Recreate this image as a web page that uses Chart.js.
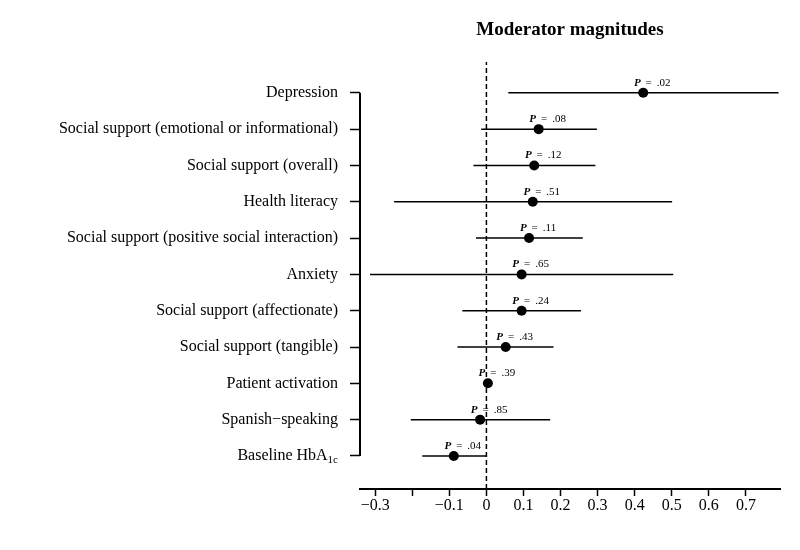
<!DOCTYPE html>
<html>
<head>
<meta charset="utf-8">
<script src="https://cdn.jsdelivr.net/npm/chart.js@4.4.1/dist/chart.umd.min.js"></script>
<style>
  body { margin: 0; background: #fff; }
  #grafico { display: block; }
</style>
</head>
<body>
<canvas id="grafico" width="800" height="550"></canvas>
<script>
// moderators, top to bottom
const categories = [
    'Depression',
    'Social support (emotional or informational)',
    'Social support (overall)',
    'Health literacy',
    'Social support (positive social interaction)',
    'Anxiety',
    'Social support (affectionate)',
    'Social support (tangible)',
    'Patient activation',
    'Spanish\u2212speaking',
    'Baseline HbA1c'
]
const estimates = [0.423, 0.141, 0.129, 0.125, 0.115, 0.095, 0.095, 0.052, 0.004, -0.017, -0.088]
const ciLower   = [0.059, -0.014, -0.035, -0.249, -0.028, -0.314, -0.065, -0.078, -0.003, -0.204, -0.173]
const ciUpper   = [0.788, 0.298, 0.294, 0.501, 0.260, 0.504, 0.255, 0.181, 0.011, 0.172, 0.001]
const pValues   = ['.02', '.08', '.12', '.51', '.11', '.65', '.24', '.43', '.39', '.85', '.04']

const xTicks      = [-0.3, -0.2, -0.1, 0, 0.1, 0.2, 0.3, 0.4, 0.5, 0.6, 0.7]
const xTickLabels = ['\u22120.3', '', '\u22120.1', '0', '0.1', '0.2', '0.3', '0.4', '0.5', '0.6', '0.7']

const serif = '"Liberation Serif", "DejaVu Serif", serif'

// row positions: first category at the top
const positions = categories.map((c, i) => categories.length - i)
const yMin = 0.09
const yMax = 11.854

const datasets = []

datasets.push({
    label: 'estimate',
    data: estimates.map((v, i) => ({ x: v, y: positions[i] })),
    showLine: false,
    pointRadius: 5,
    pointBackgroundColor: '#000',
    pointBorderWidth: 0
})

for (let i = 0; i < categories.length; i++) {
    datasets.push({
        label: 'ci ' + i,
        data: [{ x: ciLower[i], y: positions[i] }, { x: ciUpper[i], y: positions[i] }],
        borderColor: '#000',
        borderWidth: 1.5,
        pointRadius: 0
    })
}

datasets.push({
    label: 'zero',
    data: [{ x: 0, y: yMin }, { x: 0, y: yMax }],
    borderColor: '#000',
    borderWidth: 1.5,
    borderDash: [5, 3],
    pointRadius: 0
})

const subscriptLabel = categories.length - 1

const extras = {
    id: 'extras',
    afterDraw(chart) {
        const ctx = chart.ctx
        const sx = chart.scales.x
        const sy = chart.scales.y
        const area = chart.chartArea
        ctx.save()

        // y axis line only between first and last row
        ctx.strokeStyle = '#000'
        ctx.lineWidth = 2
        ctx.beginPath()
        ctx.moveTo(area.left, sy.getPixelForValue(positions[0]))
        ctx.lineTo(area.left, sy.getPixelForValue(positions[positions.length - 1]))
        ctx.stroke()

        // Baseline HbA1c with subscript
        const yb = sy.getPixelForValue(positions[subscriptLabel])
        const right = area.left - 10 - 12
        ctx.fillStyle = '#000'
        ctx.textBaseline = 'middle'
        ctx.textAlign = 'left'
        ctx.font = '11px ' + serif
        const wSub = ctx.measureText('1c').width
        ctx.fillText('1c', right - wSub, yb + 4)
        ctx.font = '16px ' + serif
        const wMain = ctx.measureText('Baseline HbA').width
        ctx.fillText('Baseline HbA', right - wSub - wMain, yb)

        // P labels above each point
        ctx.textBaseline = 'alphabetic'
        for (let i = 0; i < categories.length; i++) {
            const px = sx.getPixelForValue(estimates[i]) + 9
            const py = sy.getPixelForValue(positions[i]) - 7
            ctx.font = 'italic bold 11px ' + serif
            const wP = ctx.measureText('P').width
            ctx.font = '11px ' + serif
            const wEq = ctx.measureText('=').width
            const wV = ctx.measureText(pValues[i]).width
            const gap = 5
            let x0 = px - (wP + gap + wEq + gap + wV) / 2
            ctx.font = 'italic bold 11px ' + serif
            ctx.fillText('P', x0, py)
            x0 += wP + gap
            ctx.font = '11px ' + serif
            ctx.fillText('=', x0, py)
            x0 += wEq + gap
            ctx.fillText(pValues[i], x0, py)
        }
        ctx.restore()
    }
}

const canvas = document.getElementById('grafico')
new Chart(canvas, {
    type: 'line',
    data: { datasets: datasets },
    options: {
        responsive: false,
        animation: false,
        layout: { padding: { left: 0, right: 20, top: 0, bottom: 0 } },
        scales: {
            x: {
                type: 'linear',
                min: -0.341,
                max: 0.792,
                afterBuildTicks: s => { s.ticks = xTicks.map(v => ({ value: v })) },
                afterFit: s => { s.height = 61 },
                ticks: {
                    autoSkip: false,
                    maxRotation: 0,
                    padding: 0,
                    color: '#000',
                    font: { family: serif, size: 16 },
                    callback: (v) => xTickLabels[xTicks.findIndex(t => Math.abs(t - v) < 1e-6)]
                },
                grid: {
                    drawOnChartArea: false,
                    drawTicks: true,
                    tickLength: 7,
                    tickWidth: 1.5,
                    tickColor: '#000'
                },
                border: { display: true, color: '#000', width: 2 }
            },
            y: {
                type: 'linear',
                min: yMin,
                max: yMax,
                afterBuildTicks: s => { s.ticks = positions.slice().reverse().map(v => ({ value: v })) },
                afterFit: s => { s.width = 360 },
                ticks: {
                    autoSkip: false,
                    padding: 12,
                    font: { family: serif, size: 16 },
                    color: c => (c.tick && c.tick.value === positions[subscriptLabel]) ? 'rgba(0,0,0,0)' : '#000',
                    callback: (v) => categories[categories.length - v]
                },
                grid: {
                    drawOnChartArea: false,
                    drawTicks: true,
                    tickLength: 10,
                    tickWidth: 1.5,
                    tickColor: '#000'
                },
                border: { display: false }
            }
        },
        plugins: {
            legend: { display: false },
            tooltip: { enabled: false },
            title: {
                display: true,
                fullSize: false,
                text: 'Moderator magnitudes',
                color: '#000',
                font: { family: serif, size: 19, weight: 'bold' },
                padding: { top: 19, bottom: 20 }
            }
        }
    },
    plugins: [extras]
})
</script>
</body>
</html>
